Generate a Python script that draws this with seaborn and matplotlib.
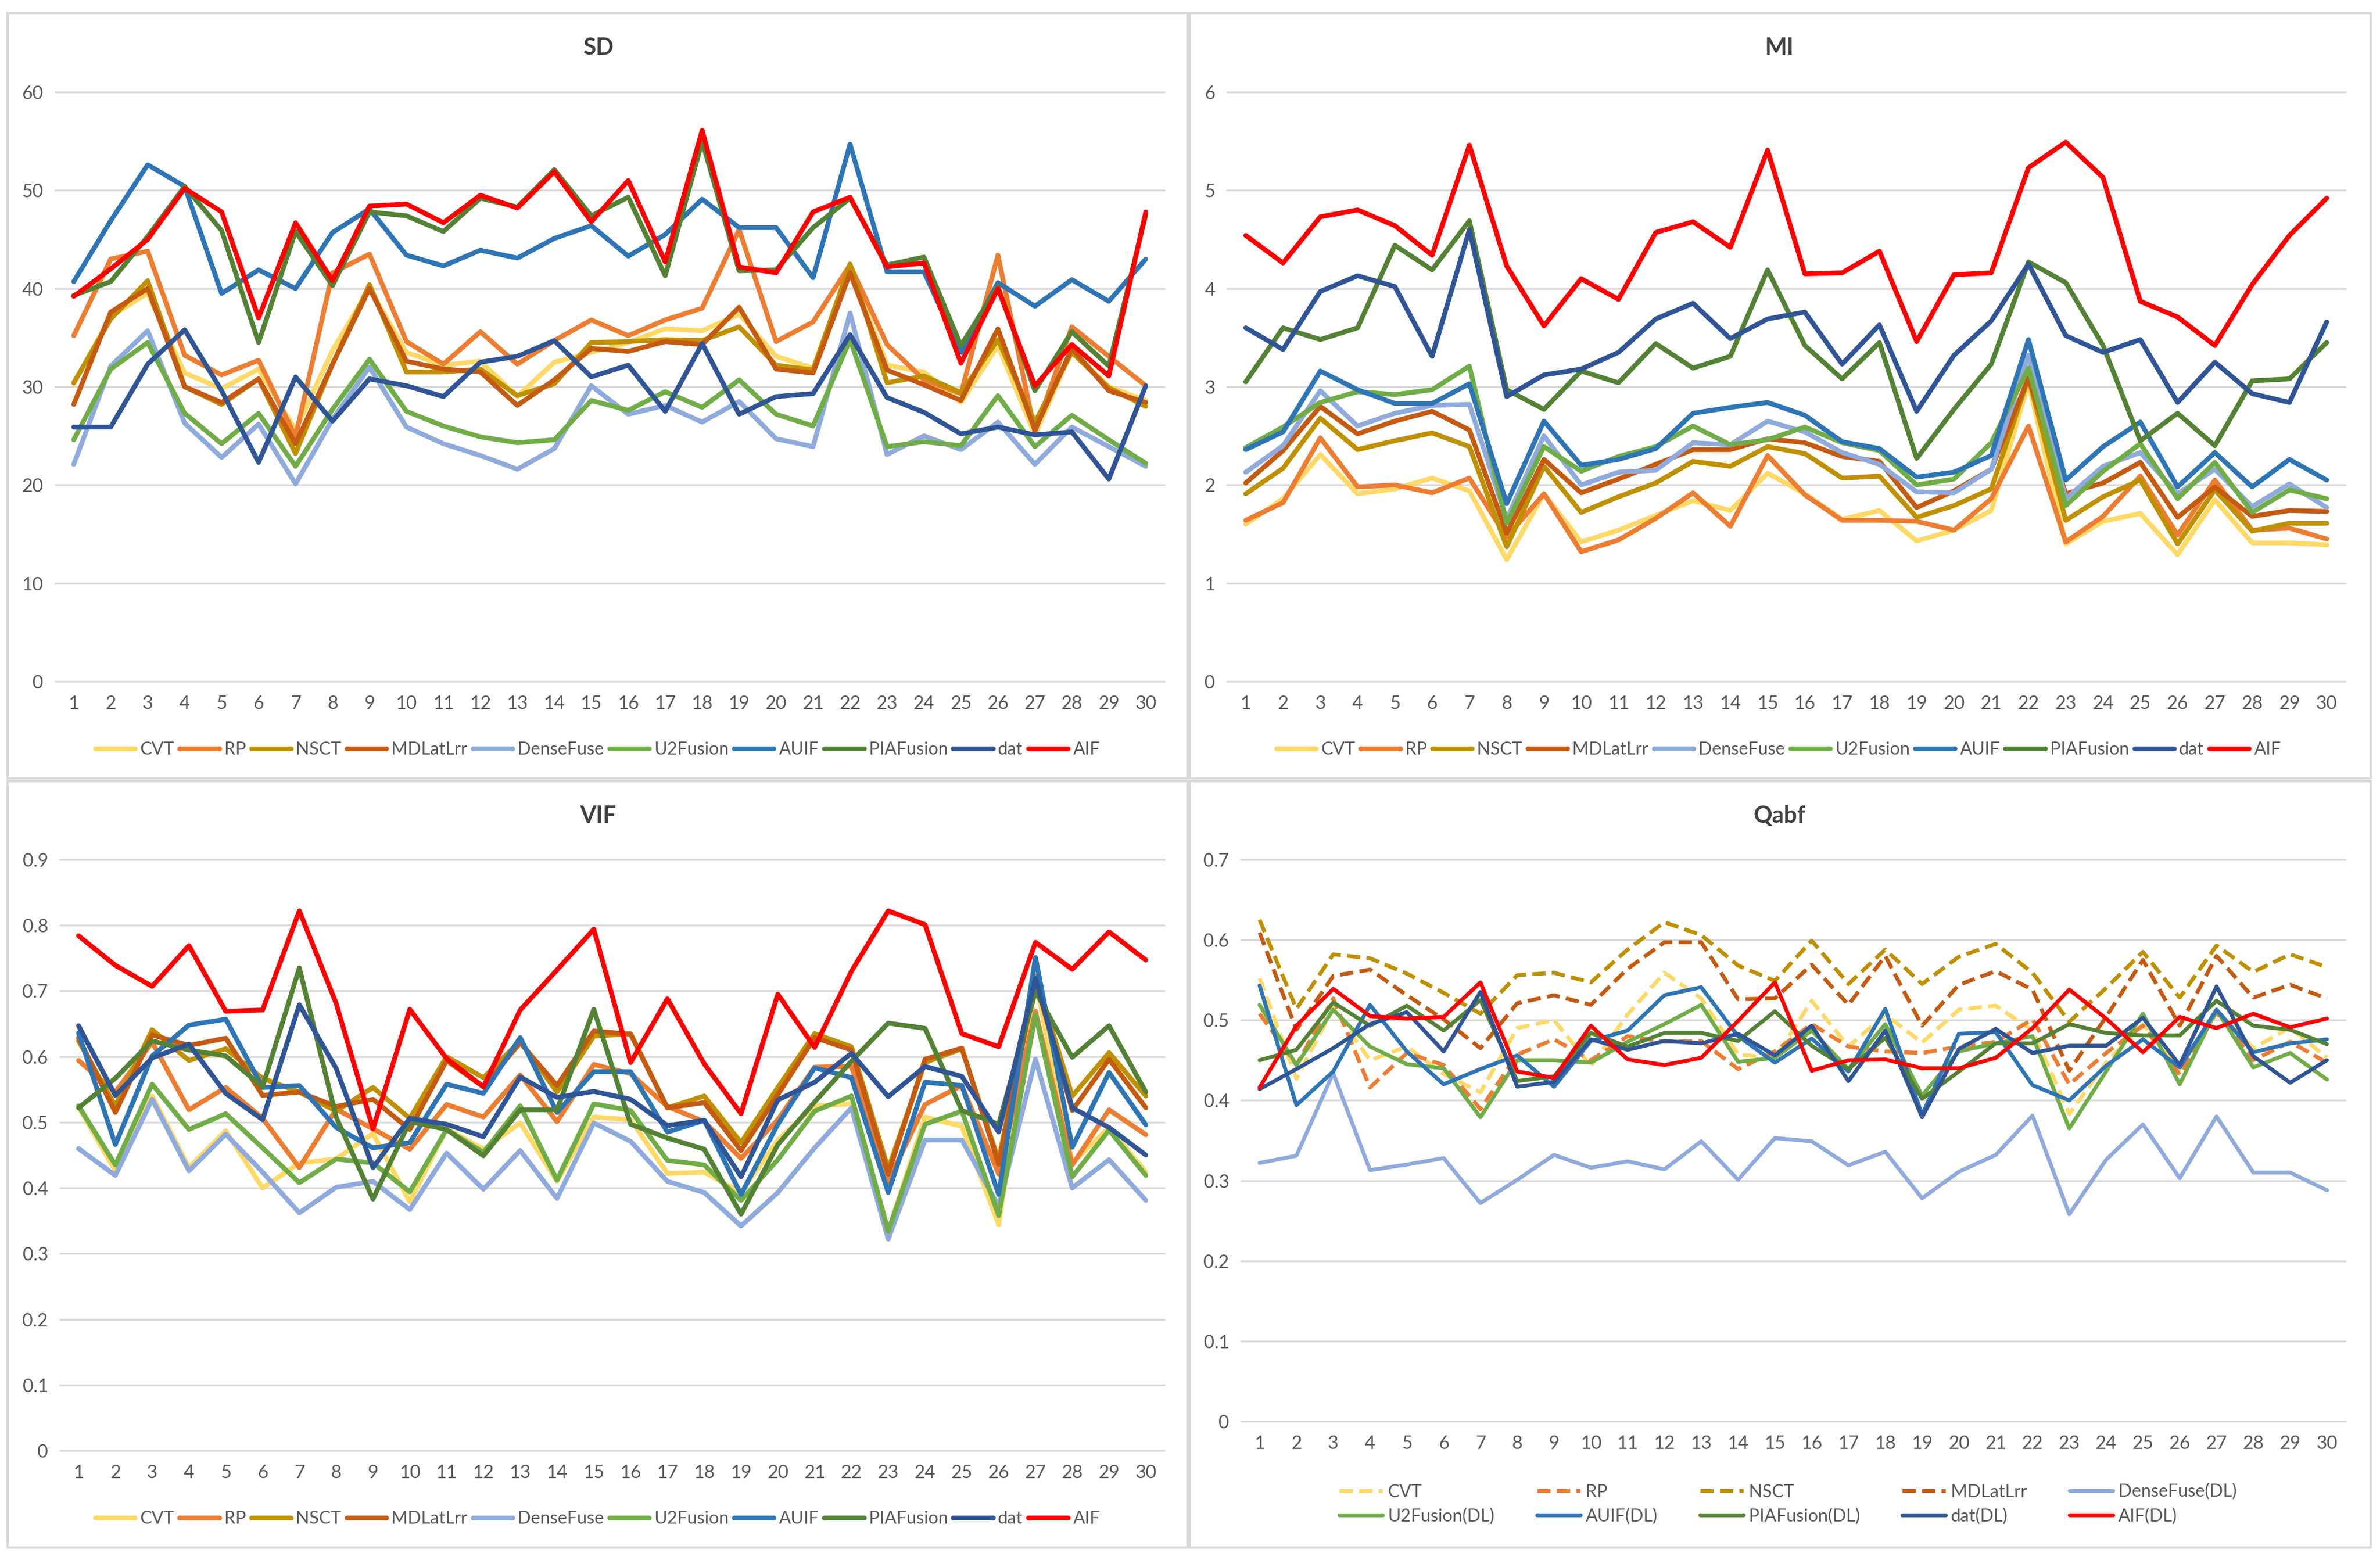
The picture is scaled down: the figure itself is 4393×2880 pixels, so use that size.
import matplotlib
matplotlib.use("Agg")
import matplotlib.pyplot as plt
from matplotlib.patches import Rectangle
import seaborn as sns
import pandas as pd

# ---------------- DATA ----------------
X_LABELS = [str(i) for i in range(1, 31)]
METHODS = ["CVT", "RP", "NSCT", "MDLatLrr", "DenseFuse", "U2Fusion", "AUIF", "PIAFusion", "dat", "AIF"]
QABF_LABELS = ["CVT", "RP", "NSCT", "MDLatLrr", "DenseFuse(DL)", "U2Fusion(DL)", "AUIF(DL)",
               "PIAFusion(DL)", "dat(DL)", "AIF(DL)"]
TITLES = ["SD", "MI", "VIF", "Qabf"]

SD_YTICKS = [0, 10, 20, 30, 40, 50, 60]
MI_YTICKS = [0, 1, 2, 3, 4, 5, 6]
VIF_YTICKS = [0, 0.1, 0.2, 0.3, 0.4, 0.5, 0.6, 0.7, 0.8, 0.9]
VIF_YLABELS = ["0", "0.1", "0.2", "0.3", "0.4", "0.5", "0.6", "0.7", "0.8", "0.9"]
QABF_YTICKS = [0, 0.1, 0.2, 0.3, 0.4, 0.5, 0.6, 0.7]
QABF_YLABELS = ["0", "0.1", "0.2", "0.3", "0.4", "0.5", "0.6", "0.7"]

# SD
sd_cvt = [30.3, 37.2, 39.5, 31.4, 29.8, 31.8, 25.6, 33.7, 40.0, 33.5, 32.2, 32.6, 29.0, 32.5, 33.5,
          34.5, 35.9, 35.7, 37.4, 33.1, 31.9, 42.0, 32.2, 31.5, 28.4, 34.2, 25.1, 33.7, 30.0, 28.6]
sd_rp = [35.2, 43.0, 43.8, 33.2, 31.2, 32.7, 24.9, 41.6, 43.5, 34.6, 32.3, 35.6, 32.3, 34.7, 36.8,
         35.2, 36.8, 38.0, 46.0, 34.6, 36.6, 42.4, 34.3, 30.7, 29.3, 43.4, 25.4, 36.1, 33.1, 30.1]
sd_nsct = [30.4, 36.9, 40.8, 30.0, 28.2, 30.8, 23.2, 32.3, 40.4, 31.5, 31.5, 31.8, 29.1, 30.3, 34.5,
           34.6, 34.8, 34.7, 36.1, 32.2, 31.7, 42.5, 30.4, 31.1, 29.4, 34.8, 26.4, 33.5, 29.9, 28.0]
sd_mdlatlrr = [28.2, 37.6, 40.0, 30.0, 28.4, 30.8, 24.2, 32.3, 40.0, 32.6, 31.8, 31.5, 28.1, 30.7, 33.9,
               33.6, 34.6, 34.3, 38.1, 31.8, 31.4, 41.6, 31.7, 30.2, 28.6, 35.9, 25.6, 33.9, 29.6, 28.4]
sd_densefuse = [22.1, 32.1, 35.7, 26.3, 22.8, 26.2, 20.1, 26.7, 32.0, 25.9, 24.2, 23.0, 21.6, 23.7, 30.1,
                27.2, 28.1, 26.4, 28.5, 24.7, 23.9, 37.5, 23.1, 25.0, 23.6, 26.4, 22.1, 25.9, 23.9, 21.9]
sd_u2fusion = [24.6, 31.8, 34.5, 27.3, 24.2, 27.3, 21.9, 27.7, 32.8, 27.5, 26.0, 24.9, 24.3, 24.6, 28.6,
               27.6, 29.5, 27.9, 30.7, 27.2, 26.0, 34.8, 23.9, 24.4, 24.0, 29.1, 23.9, 27.1, 24.6, 22.2]
sd_auif = [40.7, 46.9, 52.6, 50.4, 39.5, 41.9, 40.0, 45.7, 48.1, 43.4, 42.3, 43.9, 43.1, 45.1, 46.4,
           43.3, 45.5, 49.1, 46.2, 46.2, 41.1, 54.7, 41.7, 41.7, 33.5, 40.6, 38.2, 40.9, 38.7, 43.0]
sd_piafusion = [39.3, 40.7, 45.3, 50.4, 45.9, 34.5, 45.8, 40.3, 47.8, 47.4, 45.8, 49.2, 48.3, 52.1, 47.4,
                49.3, 41.3, 55.0, 41.8, 41.9, 46.2, 49.2, 42.4, 43.2, 34.2, 40.2, 29.6, 35.6, 32.1, 47.5]
sd_dat = [25.9, 25.9, 32.3, 35.8, 29.6, 22.3, 31.0, 26.5, 30.8, 30.1, 29.0, 32.5, 33.1, 34.7, 31.0,
          32.2, 27.5, 34.4, 27.2, 29.0, 29.3, 35.3, 28.9, 27.4, 25.2, 25.9, 25.1, 25.4, 20.6, 30.1]
sd_aif = [39.2, 42.0, 45.0, 50.2, 47.8, 37.0, 46.7, 40.8, 48.4, 48.6, 46.7, 49.5, 48.2, 51.9, 46.8,
          51.0, 42.7, 56.1, 42.2, 41.6, 47.8, 49.3, 42.2, 42.6, 32.4, 40.0, 30.1, 34.3, 31.1, 47.8]

# MI
mi_cvt = [1.60, 1.86, 2.31, 1.91, 1.96, 2.07, 1.94, 1.24, 1.91, 1.42, 1.54, 1.69, 1.84, 1.74, 2.12,
          1.91, 1.65, 1.74, 1.43, 1.54, 1.74, 3.04, 1.40, 1.63, 1.71, 1.29, 1.85, 1.41, 1.41, 1.39]
mi_rp = [1.64, 1.82, 2.48, 1.98, 2.00, 1.92, 2.07, 1.47, 1.91, 1.32, 1.44, 1.66, 1.92, 1.58, 2.30,
         1.90, 1.64, 1.64, 1.63, 1.54, 1.86, 2.60, 1.42, 1.68, 2.09, 1.49, 2.05, 1.54, 1.56, 1.45]
mi_nsct = [1.91, 2.17, 2.68, 2.36, 2.45, 2.53, 2.39, 1.37, 2.19, 1.72, 1.88, 2.02, 2.24, 2.19, 2.39,
           2.32, 2.07, 2.09, 1.67, 1.79, 1.96, 3.09, 1.64, 1.88, 2.05, 1.40, 1.95, 1.53, 1.61, 1.61]
mi_mdlatlrr = [2.02, 2.35, 2.80, 2.52, 2.65, 2.75, 2.56, 1.51, 2.26, 1.92, 2.06, 2.21, 2.36, 2.36, 2.47,
               2.43, 2.29, 2.24, 1.77, 1.94, 2.16, 3.09, 1.91, 2.02, 2.23, 1.67, 1.98, 1.68, 1.74, 1.73]
mi_densefuse = [2.13, 2.40, 2.96, 2.60, 2.73, 2.81, 2.82, 1.65, 2.50, 2.00, 2.13, 2.15, 2.43, 2.41, 2.65,
                2.54, 2.33, 2.21, 1.93, 1.92, 2.16, 3.32, 1.86, 2.19, 2.33, 1.91, 2.16, 1.78, 2.01, 1.77]
mi_u2fusion = [2.38, 2.59, 2.84, 2.95, 2.92, 2.97, 3.21, 1.61, 2.39, 2.14, 2.29, 2.39, 2.60, 2.41, 2.46,
               2.59, 2.43, 2.35, 2.00, 2.06, 2.43, 3.19, 1.79, 2.14, 2.42, 1.86, 2.23, 1.72, 1.95, 1.86]
mi_auif = [2.36, 2.54, 3.16, 2.97, 2.83, 2.83, 3.03, 1.81, 2.65, 2.20, 2.26, 2.37, 2.73, 2.79, 2.84,
           2.71, 2.44, 2.37, 2.08, 2.13, 2.30, 3.48, 2.05, 2.39, 2.64, 1.98, 2.33, 1.98, 2.26, 2.05]
mi_piafusion = [3.05, 3.60, 3.48, 3.60, 4.44, 4.19, 4.69, 2.97, 2.77, 3.16, 3.04, 3.44, 3.19, 3.31, 4.19,
                3.42, 3.08, 3.45, 2.27, 2.77, 3.23, 4.27, 4.06, 3.42, 2.45, 2.73, 2.40, 3.06, 3.08, 3.45]
mi_dat = [3.60, 3.38, 3.97, 4.13, 4.02, 3.31, 4.60, 2.90, 3.12, 3.18, 3.35, 3.69, 3.85, 3.49, 3.69,
          3.76, 3.23, 3.63, 2.75, 3.32, 3.67, 4.25, 3.52, 3.35, 3.48, 2.84, 3.25, 2.93, 2.84, 3.66]
mi_aif = [4.54, 4.26, 4.73, 4.80, 4.64, 4.34, 5.46, 4.23, 3.62, 4.10, 3.89, 4.57, 4.68, 4.42, 5.41,
          4.15, 4.16, 4.38, 3.46, 4.14, 4.16, 5.23, 5.49, 5.13, 3.87, 3.71, 3.42, 4.04, 4.54, 4.92]

# VIF
vif_cvt = [0.523, 0.426, 0.540, 0.431, 0.487, 0.400, 0.438, 0.444, 0.483, 0.379, 0.490, 0.459, 0.499, 0.410, 0.508,
           0.504, 0.422, 0.424, 0.393, 0.473, 0.525, 0.528, 0.334, 0.508, 0.494, 0.344, 0.716, 0.438, 0.492, 0.424]
vif_rp = [0.594, 0.546, 0.622, 0.519, 0.553, 0.506, 0.431, 0.520, 0.490, 0.459, 0.527, 0.508, 0.572, 0.501, 0.588,
          0.574, 0.524, 0.501, 0.445, 0.504, 0.584, 0.585, 0.410, 0.527, 0.556, 0.421, 0.669, 0.435, 0.519, 0.481]
vif_nsct = [0.624, 0.525, 0.641, 0.594, 0.612, 0.567, 0.546, 0.517, 0.553, 0.506, 0.600, 0.568, 0.624, 0.546, 0.631,
            0.635, 0.522, 0.540, 0.469, 0.553, 0.635, 0.615, 0.429, 0.591, 0.612, 0.442, 0.723, 0.540, 0.606, 0.540]
vif_mdlatlrr = [0.629, 0.515, 0.633, 0.617, 0.628, 0.541, 0.546, 0.524, 0.535, 0.489, 0.594, 0.554, 0.621, 0.556, 0.639,
                0.634, 0.522, 0.530, 0.457, 0.542, 0.629, 0.610, 0.421, 0.596, 0.613, 0.436, 0.716, 0.518, 0.596, 0.522]
vif_densefuse = [0.460, 0.419, 0.535, 0.426, 0.482, 0.424, 0.362, 0.401, 0.410, 0.367, 0.453, 0.398, 0.457, 0.384, 0.499,
                 0.471, 0.410, 0.393, 0.342, 0.393, 0.461, 0.522, 0.322, 0.473, 0.473, 0.372, 0.596, 0.400, 0.443, 0.381]
vif_u2fusion = [0.525, 0.435, 0.558, 0.489, 0.513, 0.461, 0.408, 0.444, 0.438, 0.394, 0.489, 0.454, 0.525, 0.412, 0.528,
                0.518, 0.442, 0.435, 0.381, 0.443, 0.517, 0.540, 0.334, 0.497, 0.517, 0.358, 0.664, 0.417, 0.488, 0.419]
vif_auif = [0.636, 0.466, 0.601, 0.648, 0.657, 0.553, 0.556, 0.492, 0.461, 0.469, 0.558, 0.544, 0.629, 0.515, 0.577,
            0.577, 0.485, 0.503, 0.390, 0.497, 0.583, 0.568, 0.393, 0.561, 0.556, 0.390, 0.751, 0.462, 0.576, 0.496]
vif_piafusion = [0.522, 0.567, 0.624, 0.610, 0.601, 0.554, 0.735, 0.508, 0.383, 0.501, 0.489, 0.449, 0.519, 0.519, 0.672,
                 0.497, 0.476, 0.459, 0.360, 0.466, 0.531, 0.593, 0.651, 0.643, 0.518, 0.497, 0.699, 0.599, 0.647, 0.546]
vif_dat = [0.647, 0.541, 0.598, 0.619, 0.544, 0.504, 0.679, 0.582, 0.431, 0.506, 0.497, 0.478, 0.569, 0.538, 0.547,
           0.535, 0.495, 0.503, 0.417, 0.534, 0.561, 0.605, 0.539, 0.585, 0.570, 0.485, 0.719, 0.522, 0.492, 0.450]
vif_aif = [0.784, 0.739, 0.707, 0.769, 0.669, 0.671, 0.822, 0.681, 0.490, 0.672, 0.597, 0.554, 0.671, 0.732, 0.794,
           0.591, 0.688, 0.589, 0.513, 0.695, 0.614, 0.730, 0.822, 0.801, 0.635, 0.615, 0.774, 0.733, 0.790, 0.747]

# Qabf
qabf_cvt = [0.552, 0.427, 0.515, 0.450, 0.467, 0.433, 0.410, 0.490, 0.500, 0.443, 0.507, 0.559, 0.527, 0.457, 0.453,
            0.524, 0.467, 0.507, 0.472, 0.513, 0.518, 0.487, 0.383, 0.447, 0.495, 0.439, 0.513, 0.465, 0.491, 0.453]
qabf_rp = [0.508, 0.444, 0.527, 0.416, 0.459, 0.444, 0.389, 0.457, 0.476, 0.450, 0.480, 0.473, 0.474, 0.439, 0.461,
           0.495, 0.467, 0.461, 0.459, 0.467, 0.473, 0.501, 0.420, 0.459, 0.493, 0.432, 0.510, 0.450, 0.473, 0.447]
qabf_nsct = [0.625, 0.514, 0.582, 0.577, 0.558, 0.534, 0.508, 0.556, 0.559, 0.547, 0.588, 0.622, 0.606, 0.568, 0.549,
             0.599, 0.545, 0.588, 0.545, 0.579, 0.595, 0.559, 0.498, 0.540, 0.585, 0.528, 0.593, 0.560, 0.582, 0.566]
qabf_mdlatlrr = [0.609, 0.488, 0.555, 0.563, 0.531, 0.501, 0.465, 0.521, 0.531, 0.519, 0.564, 0.597, 0.597, 0.526, 0.527,
                 0.569, 0.519, 0.580, 0.493, 0.544, 0.561, 0.538, 0.437, 0.504, 0.575, 0.493, 0.580, 0.528, 0.544, 0.527]
qabf_densefuse = [0.322, 0.331, 0.434, 0.313, 0.320, 0.328, 0.272, 0.301, 0.332, 0.316, 0.324, 0.314, 0.349, 0.301, 0.353,
                  0.349, 0.319, 0.336, 0.278, 0.311, 0.332, 0.381, 0.258, 0.326, 0.370, 0.303, 0.380, 0.310, 0.310, 0.288]
qabf_u2fusion = [0.519, 0.444, 0.513, 0.467, 0.445, 0.440, 0.379, 0.450, 0.450, 0.447, 0.473, 0.495, 0.519, 0.448, 0.453,
                 0.487, 0.439, 0.495, 0.406, 0.461, 0.471, 0.480, 0.365, 0.436, 0.508, 0.420, 0.513, 0.441, 0.459, 0.426]
qabf_auif = [0.543, 0.394, 0.436, 0.519, 0.461, 0.420, 0.439, 0.456, 0.417, 0.474, 0.487, 0.531, 0.541, 0.480, 0.447,
             0.477, 0.436, 0.514, 0.382, 0.483, 0.485, 0.419, 0.400, 0.443, 0.476, 0.441, 0.513, 0.460, 0.471, 0.476]
qabf_piafusion = [0.450, 0.463, 0.522, 0.493, 0.518, 0.487, 0.525, 0.424, 0.430, 0.484, 0.467, 0.484, 0.484, 0.474, 0.511,
                  0.468, 0.439, 0.478, 0.402, 0.436, 0.471, 0.471, 0.495, 0.484, 0.481, 0.481, 0.524, 0.493, 0.488, 0.470]
qabf_dat = [0.414, 0.439, 0.465, 0.495, 0.510, 0.461, 0.535, 0.417, 0.423, 0.476, 0.463, 0.474, 0.471, 0.483, 0.456,
            0.493, 0.424, 0.487, 0.379, 0.464, 0.489, 0.459, 0.468, 0.468, 0.503, 0.444, 0.542, 0.455, 0.422, 0.450]
qabf_aif = [0.416, 0.493, 0.539, 0.505, 0.502, 0.504, 0.547, 0.436, 0.428, 0.493, 0.451, 0.444, 0.453, 0.499, 0.547,
            0.437, 0.450, 0.451, 0.440, 0.440, 0.453, 0.490, 0.538, 0.502, 0.460, 0.504, 0.490, 0.508, 0.491, 0.502]

COLORS = ["#FFD966", "#ED7D31", "#BF9000", "#C55A11", "#8FAADC",
          "#70AD47", "#2E75B6", "#548235", "#2F5597", "#FF0000"]

# ---------------- STYLE ----------------
sns.set_theme(style="white")
plt.rcParams["font.family"] = ["Lato", "DejaVu Sans"]

W, H = 4393, 2880
fig = plt.figure(figsize=(W / 100, H / 100), dpi=100)
fig.patch.set_facecolor("white")

TXT = "#595959"
GRID = "#D9D9D9"
FS = 24.5
LFS = 23.5


def fx(px):
    return px / W


def fy(py):
    return 1 - py / H


# panel borders
for (x0, y0, x1, y1) in [(14, 24, 2192, 1437), (2196, 24, 4376, 1437),
                         (14, 1442, 2192, 2857), (2196, 1442, 4376, 2857)]:
    fig.add_artist(Rectangle((fx(x0), fy(y1)), fx(x1 - x0), (y1 - y0) / H,
                             transform=fig.transFigure, fill=False,
                             edgecolor=GRID, linewidth=3.0, zorder=0))


def panel(box, series, labels, yticks, ylabels, title, title_xy, leg_xy, lw,
          dashed=(), qabf=False):
    left, top, right, bottom = box
    ax = fig.add_axes([fx(left), fy(bottom), fx(right - left), (bottom - top) / H])
    ax.set_facecolor("none")
    xs = list(range(1, 31))
    for i, (vals, name) in enumerate(zip(series, labels)):
        df = pd.DataFrame({"x": xs, "y": vals})
        sns.lineplot(data=df, x="x", y="y", ax=ax, color=COLORS[i], linewidth=lw,
                     label=name, errorbar=None, zorder=3 + i)
    lines = ax.get_lines()
    for i, ln in enumerate(lines):
        ln.set_solid_joinstyle("round")
        ln.set_solid_capstyle("round")
        if i in dashed:
            ln.set_linestyle((0, (3.4, 1.6)))
            ln.set_dash_capstyle("butt")
    if ax.get_legend() is not None:
        ax.get_legend().remove()
    for v in yticks:
        ax.axhline(v, color=GRID, linewidth=2.4, zorder=1, clip_on=False)
    ax.set_xlim(0.5, 30.5)
    ax.set_ylim(yticks[0], yticks[-1])
    ax.set_xticks(xs)
    ax.set_xticklabels(X_LABELS)
    ax.set_yticks(yticks)
    ax.set_yticklabels(ylabels)
    ax.tick_params(axis="both", length=0, labelsize=FS, colors=TXT)
    ax.tick_params(axis="x", pad=18)
    ax.tick_params(axis="y", pad=16)
    ax.set_xlabel("")
    ax.set_ylabel("")
    for s in ax.spines.values():
        s.set_visible(False)
    ax.grid(False)
    fig.text(fx(title_xy[0]), fy(title_xy[1]), title, ha="center", va="center",
             fontsize=31, fontweight="bold", color="#404040")
    if qabf:
        order = [0, 5, 1, 6, 2, 7, 3, 8, 4, 9]
        handles = [lines[k] for k in order]
        labs = [labels[k] for k in order]
        fig.legend(handles, labs, loc="center", bbox_to_anchor=(fx(leg_xy[0]), fy(leg_xy[1])),
                   ncol=5, frameon=False, fontsize=LFS, labelcolor=TXT, handlelength=2.45,
                   handletextpad=0.3, columnspacing=2.4, labelspacing=0.45, borderaxespad=0)
    else:
        fig.legend(lines, labels, loc="center", bbox_to_anchor=(fx(leg_xy[0]), fy(leg_xy[1])),
                   ncol=10, frameon=False, fontsize=LFS, labelcolor=TXT, handlelength=2.25,
                   handletextpad=0.28, columnspacing=0.3, borderaxespad=0)
    return ax


sd = [sd_cvt, sd_rp, sd_nsct, sd_mdlatlrr, sd_densefuse, sd_u2fusion, sd_auif, sd_piafusion, sd_dat, sd_aif]
mi = [mi_cvt, mi_rp, mi_nsct, mi_mdlatlrr, mi_densefuse, mi_u2fusion, mi_auif, mi_piafusion, mi_dat, mi_aif]
vif = [vif_cvt, vif_rp, vif_nsct, vif_mdlatlrr, vif_densefuse, vif_u2fusion, vif_auif, vif_piafusion, vif_dat, vif_aif]
qabf = [qabf_cvt, qabf_rp, qabf_nsct, qabf_mdlatlrr, qabf_densefuse, qabf_u2fusion, qabf_auif, qabf_piafusion,
        qabf_dat, qabf_aif]

panel((102, 170, 2149, 1258), sd, METHODS, SD_YTICKS, [str(v) for v in SD_YTICKS], TITLES[0],
      (1104, 88), (1103, 1384), 6.4)
panel((2265, 170, 4329, 1258), mi, METHODS, MI_YTICKS, [str(v) for v in MI_YTICKS], TITLES[1],
      (3284, 88), (3283, 1384), 6.4)
panel((111, 1587, 2149, 2678), vif, METHODS, VIF_YTICKS, VIF_YLABELS, TITLES[2],
      (1104, 1506), (1103, 2804), 6.4)
panel((2291, 1587, 4329, 2624), qabf, QABF_LABELS, QABF_YTICKS, QABF_YLABELS, TITLES[3],
      (3284, 1506), (3300, 2777), 5.2, dashed=(0, 1, 2, 3), qabf=True)

fig.savefig("out.png", dpi=100, facecolor="white")
